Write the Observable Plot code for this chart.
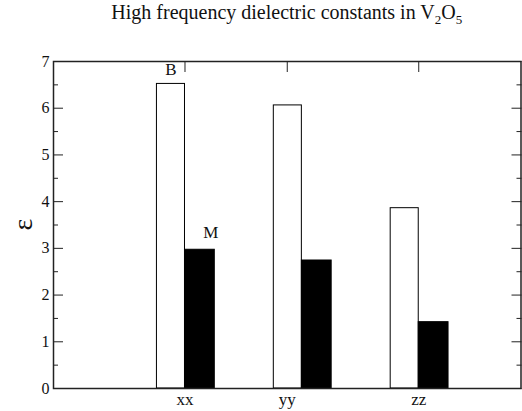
<!DOCTYPE html>
<html>
<head>
<meta charset="utf-8">
<script src="https://cdn.jsdelivr.net/npm/d3@7"></script>
<script src="https://cdn.jsdelivr.net/npm/@observablehq/plot@0.6"></script>
<style>
  body { margin: 0; background: #fff; }
  #chart { width: 522px; height: 411px; }
  #chart svg { font-family: "Liberation Serif", "Times New Roman", serif; }
</style>
</head>
<body>
<div id="chart"></div>
<script>
// Tensor components and the two dielectric-constant series
const components = ["xx", "yy", "zz"];
const groupPos = [1, 2, 3];
const tickPos = [1, 1.875, 3];
const valuesB = [6.52, 6.06, 3.86];
const valuesM = [2.97, 2.74, 1.42];
const yMajor = [0, 1, 2, 3, 4, 5, 6, 7];
const yMinor = [0.5, 1.5, 2.5, 3.5, 4.5, 5.5, 6.5];

const bars = components.flatMap((c, i) => [
  {comp: c, series: "B", x1: groupPos[i] - 0.24, x2: groupPos[i], value: valuesB[i]},
  {comp: c, series: "M", x1: groupPos[i], x2: groupPos[i] + 0.255, value: valuesM[i]}
]);
const labelB = [{text: "B", x: groupPos[0] - 0.12, value: valuesB[0]}];
const labelM = [{text: "M", x: groupPos[0] + 0.22, value: valuesM[0]}];

const W = 522, H = 411;
const chart = Plot.plot({
  width: W,
  height: H,
  marginLeft: 53,
  marginRight: 1.5,
  marginTop: 61,
  marginBottom: 23,
  style: {fontFamily: "Liberation Serif, serif", fontSize: "16px", background: "#fff"},
  x: {domain: [-0.125, 3.875]},
  y: {domain: [0, 7]},
  marks: [
    // inward ticks on all four sides
    Plot.axisY({anchor: "left", ticks: yMajor, tickSize: -10, text: null, label: null, stroke: "#222"}),
    Plot.axisY({anchor: "left", ticks: yMinor, tickSize: -5, text: null, label: null, stroke: "#222"}),
    Plot.axisY({anchor: "right", ticks: yMajor, tickSize: -10, text: null, label: null, stroke: "#222"}),
    Plot.axisY({anchor: "right", ticks: yMinor, tickSize: -5, text: null, label: null, stroke: "#222"}),
    Plot.axisX({anchor: "top", ticks: tickPos, tickSize: -10, text: null, label: null, stroke: "#222"}),
    Plot.axisX({anchor: "bottom", ticks: tickPos, tickSize: -8, text: null, label: null, stroke: "#222"}),
    // tick labels
    Plot.axisY({anchor: "left", ticks: yMajor, tickSize: 0, tickPadding: 4, label: null, fontSize: 16, fill: "#111",
      tickFormat: (d) => String(d)}),
    Plot.axisX({anchor: "bottom", ticks: tickPos, tickSize: 0, tickPadding: 4, label: null, fontSize: 17, fill: "#111",
      tickFormat: (d) => components[tickPos.indexOf(d)]}),
    // bars
    Plot.rect(bars, {
      x1: "x1", x2: "x2", y1: 0, y2: "value",
      fill: (d) => d.series === "B" ? "#fff" : "#000",
      stroke: "#000", strokeWidth: 1
    }),
    // series labels above the first pair of bars
    Plot.text(labelB, {x: "x", y: "value", text: "text", dy: -9, lineAnchor: "bottom", fontSize: 17, fill: "#111"}),
    Plot.text(labelM, {x: "x", y: "value", text: "text", dy: -12, lineAnchor: "bottom", fontSize: 17, fill: "#111"}),
    Plot.frame({stroke: "#222", strokeWidth: 1.5})
  ]
});

// title with subscripts and the rotated epsilon axis label
const svg = d3.select(chart);
const title = svg.append("text")
  .attr("x", (53 + W - 1.5) / 2)
  .attr("y", 19)
  .attr("text-anchor", "middle")
  .attr("font-family", "Liberation Serif, serif")
  .attr("font-size", 20)
  .attr("fill", "#111");
title.append("tspan").text("High frequency dielectric constants in V");
title.append("tspan").attr("dy", 5).attr("font-size", 13).text("2");
title.append("tspan").attr("dy", -5).text("O");
title.append("tspan").attr("dy", 5).attr("font-size", 13).text("5");

svg.append("text")
  .attr("transform", `translate(26, ${(61 + H - 23) / 2}) rotate(-90)`)
  .attr("text-anchor", "middle")
  .attr("dominant-baseline", "middle")
  .attr("font-family", "Liberation Serif, serif")
  .attr("font-size", 28)
  .attr("fill", "#111")
  .text("ε");

document.getElementById("chart").append(chart);
</script>
</body>
</html>
